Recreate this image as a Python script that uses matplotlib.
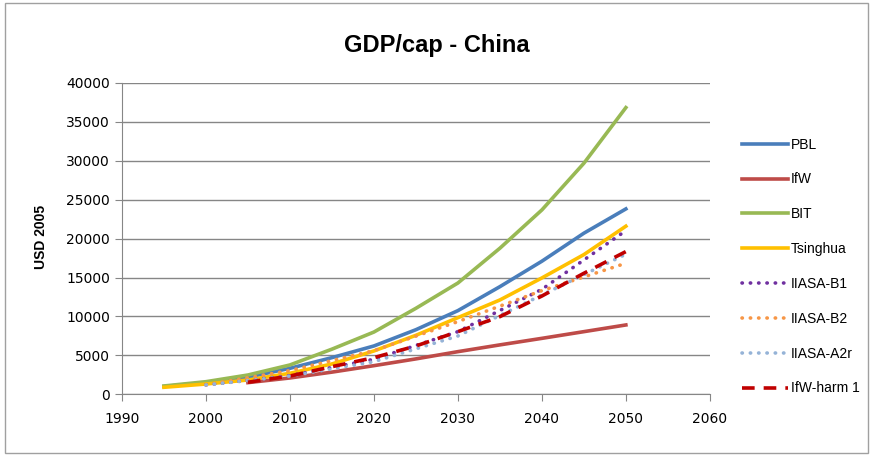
import numpy as np
import matplotlib.pyplot as plt
from matplotlib.patches import Rectangle

# Годы
years_5 = [1995, 2000, 2005, 2010, 2015, 2020, 2025, 2030, 2035, 2040, 2045, 2050]
years_ifw = [2005, 2010, 2015, 2020, 2025, 2030, 2035, 2040, 2045, 2050]
years_iiasa = [2000, 2010, 2020, 2030, 2040, 2050]

# ВВП на душу населения, USD 2005
pbl = [1000, 1500, 2200, 3340, 4710, 6210, 8300, 10750, 13830, 17100, 20700, 23820]
ifw = [1500, 2100, 2850, 3680, 4550, 5480, 6350, 7190, 8050, 8910]
bit = [1070, 1620, 2480, 3770, 5800, 8000, 11050, 14300, 18770, 23690, 29690, 36840]
tsinghua = [900, 1320, 1840, 2700, 3900, 5570, 7580, 9850, 12120, 14950, 17950, 21600]
iiasa_b1 = [1200, 2400, 4500, 8050, 13490, 21030]
iiasa_b2 = [1200, 3050, 5610, 9340, 13320, 16840]
iiasa_a2r = [1200, 2350, 4190, 7490, 12760, 18000]
ifw_harm = [1550, 2350, 3550, 4710, 6210, 8050, 9980, 12630, 15550, 18340]

fig = plt.figure(figsize=(8.71, 4.55), dpi=100)
fig.patches.append(Rectangle((0.006, 0.004), 0.99, 0.99, transform=fig.transFigure,
                             fill=False, edgecolor='#a0a0a0', linewidth=1))
ax = fig.add_axes([0.140, 0.1334, 0.675, 0.6842])

plt.rcParams['font.family'] = ['Liberation Sans', 'DejaVu Sans']

lw = 2.6
dot = (0, (0.1, 2.2))
ax.plot(years_5, pbl, color='#4A7EBB', lw=lw, label='PBL')
ax.plot(years_ifw, ifw, color='#BE4B48', lw=lw, label='IfW')
ax.plot(years_5, bit, color='#98B954', lw=lw, label='BIT')
ax.plot(years_5, tsinghua, color='#FFC000', lw=lw, label='Tsinghua')
ax.plot(years_iiasa, iiasa_b1, color='#7030A0', lw=lw, ls=dot, dash_capstyle='round', label='IIASA-B1')
ax.plot(years_iiasa, iiasa_b2, color='#F79646', lw=lw, ls=dot, dash_capstyle='round', label='IIASA-B2')
ax.plot(years_iiasa, iiasa_a2r, color='#95B3D7', lw=lw, ls=dot, dash_capstyle='round', label='IIASA-A2r')
ax.plot(years_ifw, ifw_harm, color='#C00000', lw=lw, ls=(0, (3.5, 2.5)), label='IfW-harm 1')

ax.set_xlim(1990, 2060)
ax.set_ylim(0, 40000)
ax.set_xticks(np.arange(1990, 2061, 10))
ax.set_yticks(np.arange(0, 40001, 5000))
ax.tick_params(axis='both', labelsize=10, color='#868686', length=5, direction='out')
ax.tick_params(axis='x', pad=8)
ax.grid(axis='y', color='#868686', lw=1)
ax.set_axisbelow(True)
for s in ['top', 'right']:
    ax.spines[s].set_visible(False)
for s in ['left', 'bottom']:
    ax.spines[s].set_color('#868686')

fig.text(0.502, 0.9, 'GDP/cap - China', ha='center', va='center', fontsize=17, fontweight='bold')
fig.text(0.047, 0.48, 'USD 2005', rotation=90, ha='center', va='center', fontsize=10, fontweight='bold')

fig.legend(loc='upper left', bbox_to_anchor=(0.838, 0.725), frameon=False, fontsize=10,
           handlelength=3.3, labelspacing=1.5, handletextpad=0.2)

plt.savefig('out.png', dpi=100)
